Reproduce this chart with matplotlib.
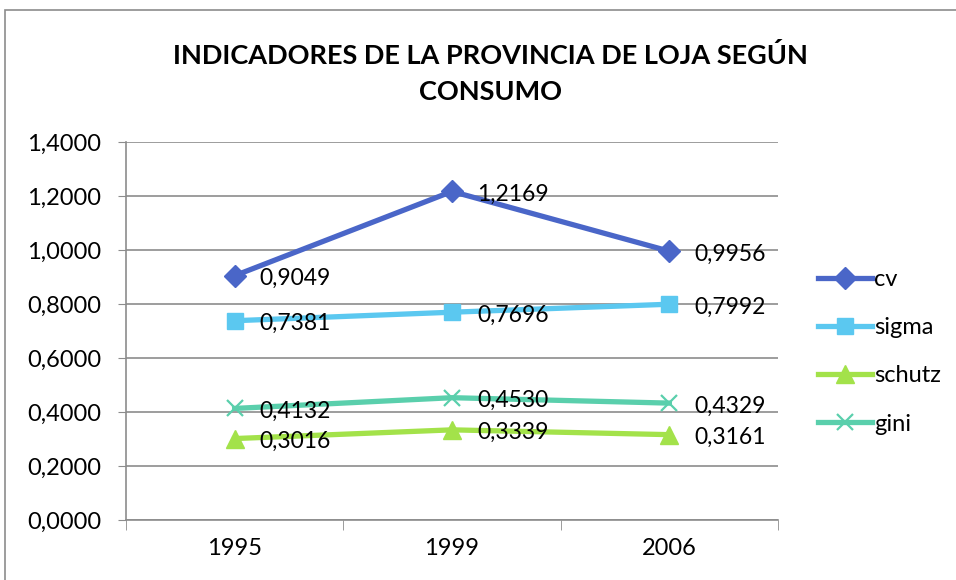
import matplotlib.pyplot as plt
from matplotlib.patches import Rectangle

# datos
anios = ['1995', '1999', '2006']
cv = [0.9049, 1.2169, 0.9956]
sigma = [0.7381, 0.7696, 0.7992]
schutz = [0.3016, 0.3339, 0.3161]
gini = [0.4132, 0.4530, 0.4329]

series = [
    ('cv', cv, '#4A66C8', 'D', 11),
    ('sigma', sigma, '#5BC8F0', 's', 12),
    ('schutz', schutz, '#A3E24A', '^', 13),
    ('gini', gini, '#5ACFAC', 'x', 12),
]

plt.rcParams['font.family'] = ['Lato', 'DejaVu Sans']

fig = plt.figure(figsize=(9.56, 5.8), dpi=100)
# marco del grafico
fig.patches.append(Rectangle((5 / 956, -0.01), 1.0, 1 - 10 / 580 + 0.01,
                             transform=fig.transFigure, fill=False,
                             edgecolor='#8C8C8C', linewidth=1.2))

ax = fig.add_axes([126 / 956, (580 - 520) / 580, (778 - 126) / 956, (520 - 142) / 580])

x = list(range(len(anios)))
for nombre, vals, color, marker, ms in series:
    mew = 1.6 if marker == 'x' else 1
    ax.plot(x, vals, color=color, linewidth=3.8, marker=marker, markersize=ms,
            markeredgewidth=mew, markeredgecolor=color, label=nombre, zorder=3)
    for xi, v in zip(x, vals):
        ax.annotate(f'{v:.4f}'.replace('.', ','), (xi, v), xytext=(18, -2),
                    textcoords='offset points', ha='left', va='center',
                    fontsize=16.5, color='#000000', zorder=4)

ax.set_xlim(-0.5, 2.5)
ax.set_ylim(0, 1.4)
ax.set_yticks([i * 0.2 for i in range(8)])
ax.set_yticklabels([f'{i * 0.2:.4f}'.replace('.', ',') for i in range(8)], fontsize=17)
ax.set_xticks(x)
ax.set_xticklabels(anios, fontsize=17)
ax.set_xticks([-0.5, 0.5, 1.5, 2.5], minor=True)
ax.tick_params(axis='x', which='major', length=0, pad=13)
ax.tick_params(axis='x', which='minor', length=7, color='#8C8C8C')
ax.tick_params(axis='y', length=6, color='#8C8C8C', pad=12)
ax.grid(axis='y', color='#8C8C8C', linewidth=1.2)
ax.set_axisbelow(True)
for s in ['top', 'right']:
    ax.spines[s].set_visible(False)
for s in ['left', 'bottom']:
    ax.spines[s].set_color('#8C8C8C')
    ax.spines[s].set_linewidth(1.2)

fig.text(490 / 956, 1 - 74 / 580, 'INDICADORES DE LA PROVINCIA DE LOJA SEGÚN\nCONSUMO',
         ha='center', va='center', fontsize=19.5, fontweight='bold', linespacing=1.6)

ax.legend(loc='center left', bbox_to_anchor=(1.028, 0.445), frameon=False,
          fontsize=17, handlelength=2.3, labelspacing=1.15, handletextpad=0.1)

plt.savefig('out.png', dpi=100)
